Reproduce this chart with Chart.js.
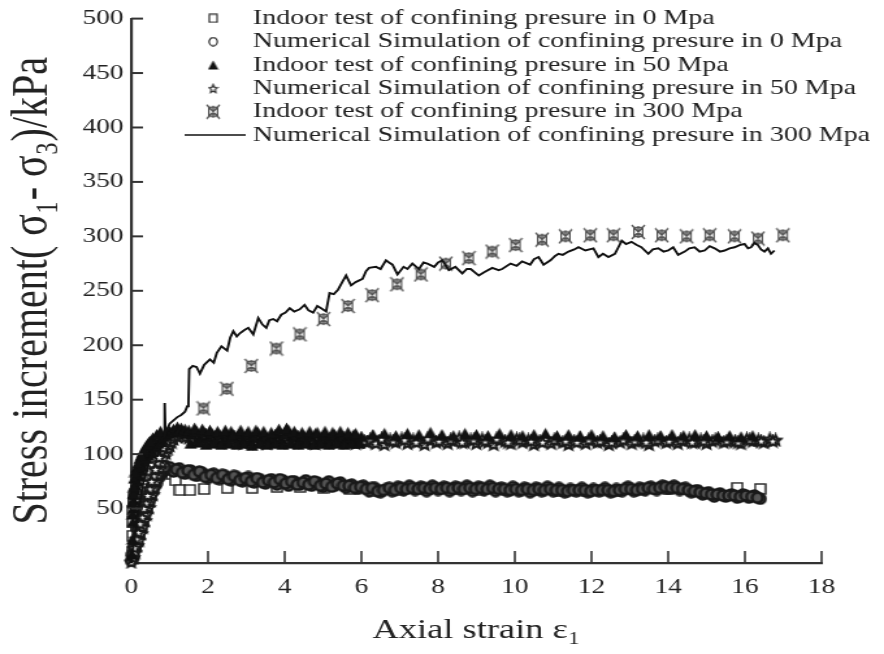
<!DOCTYPE html>
<html>
<head>
<meta charset="utf-8">
<script src="https://cdn.jsdelivr.net/npm/chart.js@4.4.1/dist/chart.umd.min.js"></script>
<style>
  html, body { margin: 0; padding: 0; background: #fff; }
  #chart { display: block; }
</style>
</head>
<body>
<!-- the original figure is stretched sideways, so the canvas is too -->
<canvas id="chart" width="680" height="654" style="width:884px;height:654px"></canvas>
<script>
// -------------------------------------
// Data: [strain, stress kPa]
// -------------------------------------
const xTicks = [0, 2, 4, 6, 8, 10, 12, 14, 16, 18];
const yTicks = [50, 100, 150, 200, 250, 300, 350, 400, 450, 500];

const legendLabels = [
  "Indoor test of confining presure in 0 Mpa",
  "Numerical Simulation of confining presure in 0 Mpa",
  "Indoor test of confining presure in 50 Mpa",
  "Numerical Simulation of confining presure in 50 Mpa",
  "Indoor test of confining presure in 300 Mpa",
  "Numerical Simulation of confining presure in 300 Mpa"
];

const test0 = [
  [0.02,10],[0.03,25],[0.04,38],[0.05,48],[0.06,55],[0.08,60],[0.1,63],[0.14,66],[0.2,70],
  [0.28,74],[0.36,77],[0.45,80],[0.55,82],[0.65,84],[0.75,86],[0.85,87],[0.95,86],[1.05,82],
  [1.15,76],[1.27,67],[1.53,67],[1.9,68],[2.5,69],[3.15,69],[3.8,70],[4.4,70],[5.0,69],
  [5.7,68],[6.3,66],[7.0,67],[7.7,68],[8.4,68],[9.1,67],[9.8,67],[10.5,67],[11.2,66],
  [11.9,66],[12.6,66],[13.3,67],[14.0,68],[14.7,66],[15.8,69],[16.4,68]
];

// numerical 0 Mpa: main trace, then the in-between points of the dense band
const sim0 = [
  [0,2],[0.05,6],[0.1,13],[0.15,18],[0.2,26],[0.25,31],[0.3,38],[0.35,45],[0.4,50],[0.45,56],
  [0.5,61],[0.55,65],[0.6,70],[0.65,73],[0.7,78],[0.75,80],[0.8,83],[0.85,85],[0.9,87],[0.95,86],
  [1.0,88],[1.1,84],[1.25,87],[1.4,82],[1.55,85],[1.7,80],[1.85,83],[2.0,78],[2.15,82],[2.3,77],
  [2.45,80],[2.6,76],[2.75,79],[2.9,75],[3.05,79],[3.2,74],[3.35,77],[3.5,73],[3.65,77],[3.8,72],
  [3.95,76],[4.1,71],[4.25,75],[4.4,72],[4.55,76],[4.7,71],[4.85,74],[5.0,70],[5.15,75],[5.3,71],
  [5.45,74],[5.6,69],[5.75,72],[5.9,68],[6.05,71],[6.2,66],[6.35,69],[6.5,65],[6.65,68],[6.8,66],
  [6.95,70],[7.1,67],[7.25,71],[7.4,67],[7.55,70],[7.7,66],[7.85,71],[8.0,67],[8.15,70],[8.3,66],
  [8.45,70],[8.6,67],[8.75,71],[8.9,66],[9.05,70],[9.2,67],[9.35,71],[9.5,66],[9.65,69],[9.8,66],
  [9.95,70],[10.1,66],[10.25,69],[10.4,65],[10.55,69],[10.7,66],[10.85,70],[11.0,66],[11.15,69],
  [11.3,65],[11.45,68],[11.6,66],[11.75,69],[11.9,65],[12.05,68],[12.2,66],[12.35,69],[12.5,65],
  [12.65,68],[12.8,66],[12.95,70],[13.1,66],[13.25,69],[13.4,67],[13.55,70],[13.7,67],[13.85,71],
  [14.0,68],[14.15,71],[14.3,67],[14.45,69],[14.6,65],[14.75,67],[14.9,63],[15.05,65],[15.2,61],
  [15.35,64],[15.5,61],[15.65,63],[15.8,60],[15.95,63],[16.1,60],[16.25,62],[16.4,59],
  [0.12,20],[0.22,35],[0.32,48],[0.42,60],[0.52,69],[0.62,76],[0.72,82],
  [0.03,8],[0.07,16],[0.17,30],[0.27,42],[0.37,55],[0.47,64],[0.57,72],[0.67,79],[0.77,84],[0.87,88],
  [1.175,86],[1.325,83],[1.475,85],[1.625,81],[1.775,84],[1.925,79],[2.075,81],[2.225,78],[2.375,81],[2.525,77],
  [2.675,80],[2.825,76],[2.975,78],[3.125,75],[3.275,78],[3.425,74],[3.575,76],[3.725,74],[3.875,77],[4.025,73],
  [4.175,75],[4.325,72],[4.475,74],[4.625,72],[4.775,75],[4.925,71],[5.075,73],[5.225,70],[5.375,73],[5.525,71],
  [5.675,71],[5.825,69],[5.975,70],[6.125,68],[6.275,69],[6.425,66],[6.575,67],[6.725,69],[6.875,67],[7.025,69],
  [7.175,68],[7.325,69],[7.475,68],[7.625,69],[7.775,68],[7.925,69],[8.075,68],[8.225,69],[8.375,68],[8.525,69],
  [8.675,68],[8.825,69],[8.975,68],[9.125,69],[9.275,68],[9.425,69],[9.575,68],[9.725,68],[9.875,67],[10.025,68],
  [10.175,67],[10.325,68],[10.475,67],[10.625,68],[10.775,67],[10.925,68],[11.075,67],[11.225,67],[11.375,66],[11.525,67],
  [11.675,67],[11.825,67],[11.975,66],[12.125,67],[12.275,67],[12.425,67],[12.575,66],[12.725,67],[12.875,68],[13.025,68],
  [13.175,67],[13.325,68],[13.475,69],[13.625,68],[13.775,69],[13.925,70],[14.075,69],[14.225,69],[14.375,68],[14.525,67],
  [14.675,66],[14.825,65],[14.975,64],[15.125,63],[15.275,63],[15.425,62],[15.575,62],[15.725,62],[15.875,61],[16.025,62],
  [16.175,61],[16.325,60]
];

const test50 = [
  [0.02,8],[0.03,22],[0.04,38],[0.05,50],[0.06,58],[0.07,63],[0.09,67],[0.12,71],[0.16,75],
  [0.2,80],[0.25,85],[0.3,89],[0.35,93],[0.4,96],[0.45,99],[0.5,101],[0.55,103],[0.6,106],
  [0.65,108],[0.7,110],[0.75,112],[0.8,114],[0.85,116],[0.9,118],[0.95,119],[1.0,121],
  [1.05,120],[1.1,123],[1.15,121],[1.2,125],[1.25,122],[1.3,124],[1.35,120],[1.4,123],
  [1.45,119],[1.5,122],[1.6,118],[1.7,121],[1.8,116],[1.9,120],[2.0,115],[2.1,119],[2.2,114],
  [2.3,118],[2.4,113],[2.5,117],[2.6,121],[2.7,115],[2.8,118],[2.9,113],[3.0,117],[3.1,112],
  [3.2,116],[3.3,120],[3.4,114],[3.5,117],[3.6,112],[3.7,116],[3.8,119],[3.9,114],[4.0,118],
  [4.1,122],[4.2,115],[4.3,118],[4.4,113],[4.5,117],[4.6,112],[4.7,116],[4.8,119],[4.9,113],
  [5.0,117],[5.1,112],[5.2,115],[5.3,118],[5.4,113],[5.5,116],[5.6,112],[5.7,115],[5.8,118],
  [5.9,113],[6.0,116],[6.3,118],[6.6,119],[6.9,117],[7.2,119],[7.5,118],[7.8,120],[8.1,118],
  [8.4,117],[8.7,119],[9.0,118],[9.3,117],[9.6,119],[9.9,118],[10.2,117],[10.5,118],[10.8,119],
  [11.1,117],[11.4,118],[11.7,117],[12.0,118],[12.3,117],[12.6,116],[12.9,118],[13.2,117],
  [13.5,118],[13.8,117],[14.1,118],[14.4,117],[14.7,118],[15.0,117],[15.3,116],[15.6,117],
  [15.9,116],[16.2,117],
  [0.08,78],[0.14,88],[0.22,96],[0.3,102],[0.38,107],[0.46,111],[0.56,115],[0.66,118],[0.76,121],
  [0.03,45],[0.04,56],[0.05,64],[0.06,70],[0.1,84],[0.18,92],[0.26,99],[0.34,104],[0.42,109],[0.5,112],
  [1.55,110],[1.65,124],[1.75,111],[1.85,123],[1.95,109],[2.05,122],[2.15,110],[2.25,121],[2.35,109],[2.45,122],
  [2.55,110],[2.65,118],[2.75,109],[2.85,122],[2.95,110],[3.05,121],[3.15,108],[3.25,122],[3.35,110],[3.45,121],
  [3.55,109],[3.65,120],[3.75,110],[3.85,123],[3.95,109],[4.05,124],[4.15,110],[4.25,121],[4.35,109],[4.45,120],
  [4.55,110],[4.65,121],[4.75,109],[4.85,120],[4.95,110],[5.05,121],[5.15,109],[5.25,120],[5.35,110],[5.45,121],
  [5.55,109],[5.65,120],[5.75,110],[5.85,119],[5.95,110]
];

const sim50 = [
  [0,1],[0.05,5],[0.1,10],[0.15,16],[0.2,21],[0.25,27],[0.3,33],[0.35,39],[0.4,45],[0.45,51],
  [0.5,57],[0.55,63],[0.6,69],[0.65,75],[0.7,81],[0.75,87],[0.8,92],[0.85,97],[0.9,101],
  [0.95,105],[1.0,108],[1.05,111],[1.1,114],
  [1.2,116],[1.35,119],[1.5,115],[1.65,118],[1.8,113],[1.95,117],[2.1,112],[2.25,116],[2.4,114],[2.55,111],
  [2.7,115],[2.85,112],[3.0,116],[3.15,113],[3.3,110],[3.45,114],[3.6,112],[3.75,116],[3.9,111],[4.05,114],
  [4.2,112],[4.35,115],[4.5,111],[4.65,114],[4.8,110],[4.95,113],[5.1,112],[5.25,115],[5.4,111],[5.55,114],
  [5.7,113],[5.85,110],[6.0,114],[6.15,111],[6.3,115],[6.45,112],[6.6,109],[6.75,113],[6.9,111],[7.05,114],
  [7.2,110],[7.35,113],[7.5,112],[7.65,109],[7.8,113],[7.95,111],[8.1,114],[8.25,110],[8.4,112],[8.55,115],
  [8.7,111],[8.85,113],[9.0,110],[9.15,114],[9.3,111],[9.45,109],[9.6,113],[9.75,112],[9.9,110],[10.05,114],
  [10.2,111],[10.35,113],[10.5,109],[10.65,112],[10.8,114],[10.95,110],[11.1,113],[11.25,111],[11.4,109],[11.55,112],
  [11.7,114],[11.85,110],[12.0,113],[12.15,111],[12.3,112],[12.45,109],[12.6,113],[12.75,111],[12.9,114],[13.05,110],
  [13.2,112],[13.35,113],[13.5,109],[13.65,112],[13.8,114],[13.95,111],[14.1,113],[14.25,110],[14.4,112],[14.55,114],
  [14.7,111],[14.85,113],[15.0,110],[15.15,112],[15.3,114],[15.45,111],[15.6,113],[15.75,112],[15.9,110],[16.05,114],
  [16.2,112],[16.35,113],[16.5,111],[16.65,114],[16.8,113],
  [0.18,28],[0.28,42],[0.38,55],[0.48,68],[0.58,80],[0.68,92],[0.78,103],
  [0.08,14],[0.13,22],[0.23,36],[0.33,50],[0.43,62],[0.53,75],[0.63,86],[0.73,97],[0.83,106],[0.93,112],
  [1.275,118],[1.425,116],[1.575,114],[1.725,116],[1.875,115],[2.025,113],[2.175,115],[2.325,112],[2.475,116],[2.625,113],
  [2.775,114],[2.925,110],[3.075,113],[3.225,115],[3.375,112],[3.525,110],[3.675,114],[3.825,113],[3.975,115],[4.125,111],
  [4.275,113],[4.425,113],[4.575,112],[4.725,111],[4.875,114],[5.025,111],[5.175,113],[5.325,112],[5.475,113],[5.625,111],
  [5.775,114],[5.925,112],[6.075,112],[6.225,113],[6.375,110],
  [6.525,114],[6.825,112],[7.125,113],[7.425,111],[7.725,114],[8.025,112],[8.325,113],[8.625,111],[8.925,113],[9.225,112],
  [9.525,114],[9.825,111],[10.125,113],[10.425,112],[10.725,111],[11.025,113],[11.325,112],[11.625,111],[11.925,113],[12.225,112],
  [12.525,111],[12.825,113],[13.125,112],[13.425,111],[13.725,113],[14.025,112],[14.325,113],[14.625,111],[14.925,112],[15.225,113],
  [15.525,112],[15.825,111],[16.125,113],[16.425,112],[16.725,112]
];

const test300 = [
  [1.88,142],[2.49,160],[3.13,181],[3.78,197],[4.39,210],[5.01,224],[5.65,236],[6.28,246],
  [6.93,256],[7.55,265],[8.2,275],[8.8,280],[9.41,286],[10.02,292],[10.71,297],[11.32,300],
  [11.97,301],[12.57,301],[13.22,304],[13.83,301],[14.48,300],[15.08,301],[15.73,300],
  [16.34,298],[16.99,301]
];

const sim300 = [
  [0,0],[0.1,28],[0.2,52],[0.3,72],[0.4,86],[0.5,97],[0.6,104],[0.7,110],[0.8,114],[0.86,116],
  [0.87,147],[0.89,119],[0.95,124],[1.0,128],[1.1,131],[1.2,134],[1.3,136],[1.4,139],[1.46,144],
  [1.49,147],[1.51,178],[1.6,181],[1.7,180],[1.79,174],[1.9,182],[2.05,187],[2.15,184],[2.23,193],
  [2.35,199],[2.5,195],[2.58,207],[2.66,213],[2.75,208],[2.83,211],[2.95,214],[3.05,216],[3.18,210],
  [3.31,225],[3.42,219],[3.52,216],[3.6,223],[3.7,224],[3.8,222],[3.91,228],[4.02,230],[4.13,234],
  [4.25,231],[4.39,233],[4.52,237],[4.62,232],[4.74,230],[4.85,236],[4.95,234],[5.08,231],[5.17,248],
  [5.28,247],[5.39,251],[5.5,258],[5.6,264],[5.73,255],[5.85,258],[6.03,261],[6.12,268],[6.2,271],
  [6.38,272],[6.5,270],[6.64,278],[6.72,276],[6.81,274],[6.94,265],[7.1,272],[7.2,270],[7.33,275],
  [7.5,270],[7.62,276],[7.72,275],[7.9,272],[8.0,276],[8.11,278],[8.28,269],[8.45,272],[8.63,266],
  [8.75,270],[8.85,270],[9.06,264],[9.2,267],[9.41,271],[9.58,269],[9.67,270],[9.89,275],[10.05,273],
  [10.19,277],[10.4,274],[10.5,279],[10.62,281],[10.75,274],[10.93,278],[11.05,282],[11.14,284],
  [11.25,283],[11.4,286],[11.55,288],[11.66,290],[11.84,287],[12.05,289],[12.18,281],[12.3,284],
  [12.44,281],[12.61,284],[12.7,290],[12.79,296],[12.9,293],[13.04,295],[13.18,292],[13.3,290],
  [13.48,284],[13.6,288],[13.74,289],[13.88,286],[14.0,287],[14.13,290],[14.26,283],[14.43,286],
  [14.55,289],[14.69,290],[14.82,286],[14.95,287],[15.08,291],[15.21,289],[15.35,286],[15.47,287],
  [15.6,289],[15.73,290],[15.86,292],[15.99,293],[16.08,289],[16.16,290],[16.25,294],[16.34,292],
  [16.42,288],[16.51,286],[16.6,289],[16.68,284],[16.77,287]
];

const toPoints = (pairs) => pairs.map(([x, y]) => ({ x, y }));

// -------------------------------------
// Marker shapes (small canvases used as pointStyle)
// -------------------------------------
function marker(w, h, draw) {
  const c = document.createElement("canvas");
  c.width = w;
  c.height = h;
  draw(c.getContext("2d"), w, h);
  return c;
}

function square(w, h, lw) {
  return marker(w, h, (g) => {
    g.fillStyle = "#fff";
    g.strokeStyle = "#222";
    g.lineWidth = lw;
    g.fillRect(1, 1, w - 2, h - 2);
    g.strokeRect(1, 1, w - 2, h - 2);
  });
}

function circle(w, h, lw, fill) {
  return marker(w, h, (g) => {
    g.strokeStyle = "#1a1a1a";
    g.lineWidth = lw;
    g.beginPath();
    g.ellipse(w / 2, h / 2, w / 2 - lw / 2 - 0.3, h / 2 - lw / 2 - 0.3, 0, 0, Math.PI * 2);
    if (fill) { g.fillStyle = fill; g.fill(); }
    g.stroke();
  });
}

function triangle(w, h) {
  return marker(w, h, (g) => {
    g.fillStyle = "#111";
    g.beginPath();
    g.moveTo(w / 2, 0.5);
    g.lineTo(w - 0.5, h - 0.5);
    g.lineTo(0.5, h - 0.5);
    g.closePath();
    g.fill();
  });
}

function star(w, h, lw) {
  return marker(w, h, (g) => {
    g.fillStyle = "#fff";
    g.strokeStyle = "#1a1a1a";
    g.lineWidth = lw;
    g.beginPath();
    for (let i = 0; i < 10; i++) {
      const r = i % 2 === 0 ? 1 : 0.45;
      const a = -Math.PI / 2 + i * Math.PI / 5;
      const px = w / 2 + Math.cos(a) * r * (w / 2 - lw);
      const py = h / 2 + 0.6 + Math.sin(a) * r * (h / 2 - lw);
      if (i === 0) g.moveTo(px, py); else g.lineTo(px, py);
    }
    g.closePath();
    g.fill();
    g.stroke();
  });
}

const xboxMark = marker(12, 16, (g, w, h) => {
  g.strokeStyle = "#555";
  g.lineWidth = 1.3;
  g.beginPath();
  g.moveTo(1, 1); g.lineTo(w - 1, h - 1);
  g.moveTo(w - 1, 1); g.lineTo(1, h - 1);
  g.rect(w * 0.22, h * 0.22, w * 0.56, h * 0.56);
  g.moveTo(w / 2, h * 0.12); g.lineTo(w / 2, h * 0.88);
  g.stroke();
});

// plot markers (heavier, they pile up into bands) and legend markers
const squareMark = square(10, 12, 1.4);
const circleMark = circle(11, 13, 2.4, "#555");
const triangleMark = triangle(11, 12);
const starMark = star(13, 15, 1.9);

const legendMarks = [
  square(8, 10, 1.1),
  circle(8, 10, 1.1),
  triangle(9, 10),
  star(9, 11, 1.1),
  xboxMark,
  null
];

// -------------------------------------
// Plugins: inward tick marks + legend inside the plot
// -------------------------------------
const inwardTicks = {
  id: "inwardTicks",
  afterDraw(chart) {
    const { ctx } = chart;
    const xs = chart.scales.x;
    const ys = chart.scales.y;
    ctx.save();
    ctx.strokeStyle = "#333";
    ctx.lineWidth = 1.6;
    xs.ticks.forEach((t) => {
      if (t.value === 0) return;
      const px = xs.getPixelForValue(t.value);
      ctx.beginPath();
      ctx.moveTo(px, ys.bottom);
      ctx.lineTo(px, ys.bottom - 12);
      ctx.stroke();
    });
    ctx.lineWidth = 2;
    ys.ticks.forEach((t) => {
      if (t.value === 0) return;
      const py = ys.getPixelForValue(t.value);
      ctx.beginPath();
      ctx.moveTo(xs.left, py);
      ctx.lineTo(xs.left + 9, py);
      ctx.stroke();
    });
    ctx.restore();
  }
};

const insideLegend = {
  id: "insideLegend",
  afterDraw(chart) {
    const { ctx } = chart;
    ctx.save();
    ctx.font = '21.5px "Liberation Serif", "Times New Roman", serif';
    ctx.fillStyle = "#222";
    ctx.textBaseline = "middle";
    legendLabels.forEach((label, i) => {
      const y = 18.3 + i * 23.35;
      const m = legendMarks[i];
      if (m) {
        ctx.drawImage(m, 164 - m.width / 2, y - m.height / 2);
      } else {
        ctx.strokeStyle = "#111";
        ctx.lineWidth = 1.6;
        ctx.beginPath();
        ctx.moveTo(142, y);
        ctx.lineTo(189, y);
        ctx.stroke();
      }
      ctx.fillText(label, 194.5, y);
    });
    ctx.restore();
  }
};

// -------------------------------------
// Chart (lower index = drawn on top)
// -------------------------------------
const serif = '"Liberation Serif", "Times New Roman", serif';

new Chart(document.getElementById("chart"), {
  type: "scatter",
  data: {
    datasets: [
      {
        label: legendLabels[5],
        data: toPoints(sim300),
        showLine: true,
        borderColor: "#111",
        borderWidth: 1.9,
        pointRadius: 0,
        tension: 0
      },
      {
        label: legendLabels[4],
        data: toPoints(test300),
        pointStyle: xboxMark,
        pointRadius: 7
      },
      {
        label: legendLabels[2],
        data: toPoints(test50),
        pointStyle: triangleMark,
        pointRadius: 5
      },
      {
        label: legendLabels[3],
        data: toPoints(sim50),
        pointStyle: starMark,
        pointRadius: 6
      },
      {
        label: legendLabels[1],
        data: toPoints(sim0),
        pointStyle: circleMark,
        pointRadius: 5
      },
      {
        label: legendLabels[0],
        data: toPoints(test0),
        pointStyle: squareMark,
        pointRadius: 6
      }
    ].map((d) => ({ clip: false, ...d }))
  },
  options: {
    responsive: false,
    animation: false,
    devicePixelRatio: 1,
    layout: { padding: { top: 13, right: 48, left: 0, bottom: 0 } },
    plugins: {
      legend: { display: false },
      tooltip: { enabled: false }
    },
    scales: {
      x: {
        type: "linear",
        min: 0,
        max: 18,
        afterFit: (s) => { s.height = 91; },
        afterBuildTicks: (s) => { s.ticks = xTicks.map((v) => ({ value: v })); },
        grid: { display: false, drawTicks: false },
        border: { display: true, color: "#333", width: 2.2 },
        ticks: {
          color: "#222",
          padding: 12,
          maxRotation: 0,
          font: { family: serif, size: 21 }
        },
        title: {
          display: true,
          text: "Axial strain ε₁",
          color: "#222",
          padding: { top: 0, bottom: 7 },
          font: { family: serif, size: 28 }
        }
      },
      y: {
        type: "linear",
        min: 0,
        max: 500,
        afterFit: (s) => { s.width = 101; },
        afterBuildTicks: (s) => { s.ticks = [0, ...yTicks].map((v) => ({ value: v })); },
        grid: { display: false, drawTicks: false },
        border: { display: true, color: "#333", width: 2.2 },
        ticks: {
          color: "#222",
          padding: 6,
          font: { family: serif, size: 21 },
          callback: (v) => (v === 0 ? "" : v)
        },
        title: {
          display: true,
          text: "Stress increment( σ₁- σ₃)/kPa",
          color: "#222",
          padding: { top: 1, bottom: 0 },
          font: { family: serif, size: 40 }
        }
      }
    }
  },
  plugins: [inwardTicks, insideLegend]
});
</script>
</body>
</html>
